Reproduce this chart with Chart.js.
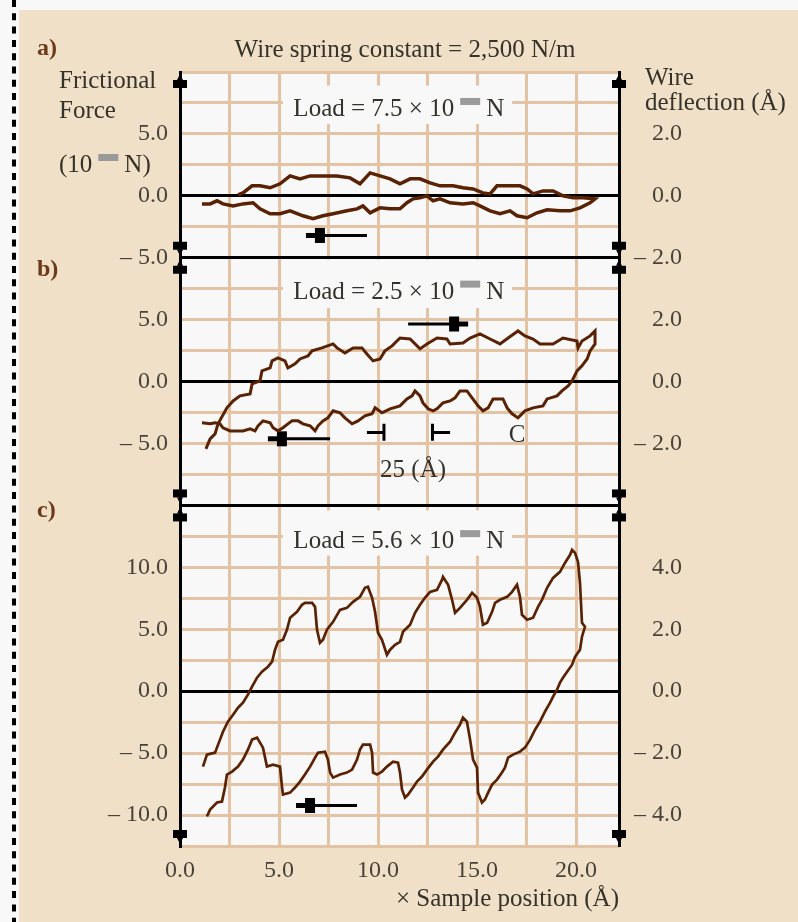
<!DOCTYPE html>
<html>
<head>
<meta charset="utf-8">
<title>Friction loops at three loads</title>
<script src="https://cdn.jsdelivr.net/npm/chart.js@4/dist/chart.umd.min.js"></script>
<style>
  html, body { margin: 0; padding: 0; background: #f8f8f8; }
  canvas { display: block; }
</style>
</head>
<body>
<canvas id="fig" width="798" height="922"></canvas>
<script>
// Sample position (Å) and frictional force for each scan; the forward pass runs
// left to right along the upper branch, the return pass comes back along the lower one.
const aForwardX = [2.93,3.18,3.64,4.04,4.55,5.05,5.56,6.06,6.57,7.22,7.93,8.59,9.09,9.60,10.10,10.61,11.11,11.62,12.12,12.63,13.13,13.79,14.29,14.80,15.30,15.66,16.01,16.67,17.17,17.53,17.83,18.33,18.84,19.34,19.85,20.35,20.96];
const aForwardY = [0.08,0.24,0.81,0.81,0.65,0.97,1.61,1.37,1.61,1.61,1.61,1.45,0.97,1.85,1.61,1.37,0.97,1.37,1.37,1.05,0.81,0.81,0.65,0.56,0.24,0.16,0.81,0.81,0.81,0.56,0.16,0.40,0.40,0.00,-0.16,-0.16,-0.24];
const aReturnX = [20.71,20.20,19.70,19.19,18.54,18.03,17.53,17.02,16.67,16.16,15.66,15.15,14.80,14.29,13.64,13.13,12.78,12.47,12.12,11.77,11.46,11.11,10.61,10.10,9.60,9.24,8.94,8.43,7.73,7.22,6.72,6.21,5.56,5.05,4.55,4.04,3.69,3.18,2.68,2.17,1.87,1.52,1.11];
const aReturnY = [-0.56,-0.97,-1.21,-1.21,-1.13,-1.37,-1.77,-1.61,-1.21,-1.45,-1.21,-0.81,-0.56,-0.65,-0.56,-0.24,-0.40,0.00,-0.16,-0.24,-0.56,-1.05,-1.05,-0.97,-1.37,-0.81,-1.05,-1.21,-1.45,-1.61,-1.85,-1.61,-1.21,-1.45,-1.45,-1.05,-0.56,-0.65,-0.81,-0.65,-0.40,-0.65,-0.65];

const bForwardX = [1.31,1.52,1.77,1.92,2.37,2.68,3.03,3.54,3.64,4.04,4.14,4.55,4.65,4.95,5.30,5.45,5.81,6.06,6.46,6.67,7.17,7.73,7.93,8.33,8.74,9.19,9.44,9.75,10.10,10.35,10.71,11.11,11.62,12.12,12.47,12.98,13.48,13.64,14.29,14.65,15.15,15.66,16.16,16.57,17.07,17.42,17.83,18.18,18.84,19.34,20.05,20.10,20.30,20.71,20.96];
const bForwardY = [-5.43,-4.63,-4.22,-3.41,-2.12,-1.56,-1.15,-0.99,-0.19,0.06,0.86,1.10,1.67,1.91,1.67,1.10,1.43,1.83,2.07,2.48,2.72,3.04,2.72,2.31,2.72,2.72,2.23,1.67,1.83,2.48,2.88,3.52,3.44,2.64,3.04,3.52,3.44,3.04,3.12,3.52,3.85,3.44,3.04,3.52,4.09,3.69,3.44,3.04,3.04,3.52,3.28,2.72,3.28,3.69,4.09];
const bReturnX = [20.96,20.71,20.56,20.30,20.05,19.80,19.60,19.29,19.04,18.54,18.33,17.83,17.42,17.07,16.77,16.52,16.31,15.81,15.56,15.30,15.05,14.75,14.49,14.14,13.89,13.64,13.28,12.98,12.78,12.53,12.27,12.12,11.87,11.72,11.46,11.11,10.61,10.20,9.85,9.70,9.34,8.99,8.69,8.33,8.08,7.73,7.47,7.22,6.97,6.82,6.57,6.21,5.96,5.66,5.45,5.20,4.95,4.70,4.55,4.19,3.94,3.79,3.54,3.18,2.88,2.53,2.17,2.02,1.77,1.52,1.11];
const bReturnY = [3.04,2.48,1.83,1.27,0.86,0.06,-0.35,-0.75,-1.15,-1.40,-1.96,-2.12,-2.36,-2.93,-2.60,-2.12,-1.40,-1.40,-2.12,-2.36,-1.96,-1.31,-0.75,-0.75,-1.31,-1.56,-1.72,-2.20,-2.36,-2.20,-1.72,-1.15,-0.75,-1.15,-1.40,-1.96,-2.20,-2.52,-2.12,-2.60,-2.77,-3.17,-3.41,-2.93,-2.52,-2.36,-2.93,-3.17,-3.57,-3.98,-3.57,-3.41,-3.17,-3.17,-3.41,-3.73,-3.98,-3.73,-3.33,-3.17,-3.57,-3.98,-3.81,-3.98,-3.98,-3.98,-3.73,-3.41,-3.33,-3.41,-3.33];

const cForwardX = [1.16,1.36,1.77,2.02,2.17,2.42,2.68,2.93,3.18,3.43,3.64,3.89,4.14,4.44,4.65,4.80,4.95,5.20,5.40,5.56,5.91,6.16,6.31,6.67,6.82,6.92,7.07,7.22,7.42,7.73,8.08,8.43,8.74,9.09,9.34,9.49,9.70,9.85,10.00,10.20,10.45,10.61,10.86,11.11,11.26,11.62,11.87,12.12,12.37,12.63,12.98,13.23,13.28,13.54,13.74,13.89,14.14,14.49,14.75,15.00,15.15,15.30,15.51,15.76,15.91,16.16,16.52,16.77,17.02,17.17,17.27,17.53,17.83,18.08,18.28,18.54,18.84,19.19,19.44,19.70,19.80,19.95,20.10,20.20,20.30,20.45];
const cForwardY = [-6.09,-5.12,-4.96,-3.91,-3.27,-2.46,-1.90,-1.33,-0.93,-0.28,0.36,1.09,1.57,1.98,2.38,3.35,3.99,4.15,4.96,5.93,6.41,6.98,7.14,7.14,6.81,4.96,3.91,4.15,4.96,5.60,6.57,6.73,7.22,7.62,8.35,8.43,7.54,6.41,4.72,4.15,2.94,3.35,3.75,3.99,4.80,5.36,6.33,6.98,7.54,8.02,8.19,8.99,9.23,8.59,7.38,6.33,6.73,7.38,7.94,7.54,6.81,5.36,5.52,6.41,7.14,7.38,7.62,8.02,8.59,7.62,6.17,5.77,5.93,6.81,7.38,8.35,9.15,9.64,10.36,11.01,11.41,11.17,10.44,8.75,5.52,5.20];
const cReturnX = [20.30,20.20,19.95,19.80,19.55,19.34,19.19,19.04,18.84,18.69,18.43,18.18,17.93,17.68,17.42,17.17,16.82,16.57,16.41,16.26,16.01,15.76,15.56,15.40,15.25,15.05,15.00,14.80,14.65,14.49,14.29,14.14,13.89,13.64,13.28,13.03,12.78,12.47,12.22,11.97,11.77,11.52,11.36,11.21,11.11,11.01,10.76,10.45,10.20,9.95,9.75,9.70,9.60,9.24,9.09,8.94,8.69,8.43,8.08,7.73,7.58,7.47,7.32,6.97,6.82,6.57,6.31,6.06,5.81,5.56,5.20,5.15,5.05,4.70,4.39,4.19,3.89,3.64,3.43,3.18,2.93,2.63,2.37,2.27,2.12,1.87,1.52,1.36];
const cReturnY = [4.40,3.35,2.78,2.14,1.57,1.09,0.69,0.12,-0.44,-0.93,-1.65,-2.46,-3.11,-3.91,-4.56,-4.88,-5.12,-5.36,-6.17,-6.57,-7.14,-7.54,-8.19,-8.75,-8.99,-8.19,-6.17,-5.52,-3.91,-2.46,-2.14,-2.70,-3.35,-4.07,-4.72,-5.28,-5.69,-6.33,-6.89,-7.30,-7.78,-8.35,-8.59,-7.94,-6.57,-5.77,-5.69,-6.09,-6.49,-6.73,-6.57,-4.96,-4.31,-4.31,-4.72,-5.52,-6.33,-6.57,-6.73,-6.98,-6.57,-5.52,-4.88,-4.96,-5.36,-6.09,-6.73,-7.30,-7.78,-8.19,-8.35,-7.70,-6.09,-5.93,-6.09,-4.56,-3.75,-3.91,-4.72,-5.52,-6.09,-6.49,-6.73,-7.78,-8.91,-8.99,-9.56,-10.12];

// Axis ranges (force units) and the tick values that carry a label.
const xRange = [0, 22.17];
const xTickLabels = [0, 5, 10, 15, 20];
const aRange = [-5, 10];
const bRange = [-10, 10];
const cRange = [-12.5, 15];
const aForceLabels = [5, 0, -5];
const bForceLabels = [5, 0, -5];
const cForceLabels = [10, 5, 0, -5, -10];
// Wire deflection (Å) per unit of frictional force: 2,500 N/m spring.
const deflectionPerForce = 0.4;
const aDeflLabels = [2, 0, -2];
const bDeflLabels = [2, 0, -2];
const cDeflLabels = [4, 2, 0, -2, -4];
const loads = ['7.5', '2.5', '5.6'];

const SERIF = '"Liberation Serif", "Times New Roman", serif';
const BEIGE = '#f0e0c8';
const PLOT_BG = '#f8f8f8';
const GRID = '#e3c3a3';
const INK = '#000000';
const TRACE = '#5a2204';
const TEXT = '#34322a';
const TICK_TEXT = '#47433a';
const LETTER = '#6b3a18';

function points(xs, ys) { return xs.map((x, i) => ({ x, y: ys[i] })); }
function loop(fx, fy, rx, ry) { return points(fx.concat(rx), fy.concat(ry)); }
function fmt(v) { return v < 0 ? '\u2013 ' + Math.abs(v).toFixed(1) : Math.abs(v).toFixed(1); }
function near(list, v) { return list.some(t => Math.abs(t - v) < 1e-6); }

function forceAxis(range, weight, labelled, darkValues) {
  return {
    type: 'linear', position: 'left', stack: 'force', stackWeight: range[1] - range[0], weight,
    min: range[0], max: range[1],
    ticks: {
      stepSize: 2.5, autoSkip: false, padding: 12, color: TICK_TEXT,
      font: { family: SERIF, size: 24 },
      callback: v => near(labelled, v) ? fmt(v) : ''
    },
    grid: {
      drawTicks: false, lineWidth: 3,
      color: c => near(darkValues, c.tick.value) ? INK : GRID
    },
    border: { color: INK, width: 3 },
    afterFit: s => { s.width = 180; }
  };
}

function deflectionAxis(range, weight, labelled) {
  const lo = range[0] * deflectionPerForce, hi = range[1] * deflectionPerForce;
  return {
    type: 'linear', position: 'right', stack: 'defl', stackWeight: range[1] - range[0], weight,
    min: lo, max: hi,
    ticks: {
      stepSize: 2.5 * deflectionPerForce, autoSkip: false, crossAlign: 'far', color: TICK_TEXT,
      font: { family: SERIF, size: 24 },
      callback: v => near(labelled, v) ? fmt(v) : ''
    },
    grid: { display: false, drawTicks: false },
    border: { color: INK, width: 3 },
    afterFit: s => { s.width = 63; }
  };
}

function px(scale, v) { return scale.getPixelForValue(v); }

// Text with a grey block standing in for the exponent.
function textWithExponent(ctx, before, after, x, y, align) {
  const gap = 6, blockW = 20;
  const w1 = ctx.measureText(before).width, w2 = ctx.measureText(after).width;
  const total = w1 + gap + blockW + gap + w2;
  let left = align === 'center' ? x - total / 2 : x;
  ctx.textAlign = 'left';
  ctx.fillText(before, left, y);
  ctx.fillStyle = '#9a9a9a';
  ctx.fillRect(left + w1 + gap, y - 18, blockW, 7);
  ctx.fillStyle = TEXT;
  ctx.fillText(after, left + w1 + gap + blockW + gap, y);
}

// Filled arrow: narrow nose, wide block, then a shaft back to the tail.
function arrow(ctx, xs, ys, tailV, tipV, yV) {
  const tail = px(xs, tailV), tip = px(xs, tipV), y = px(ys, yV);
  const d = tail > tip ? 1 : -1;
  ctx.fillStyle = INK;
  ctx.fillRect(Math.min(tip, tip + d * 10), y - 2.5, 10, 5);
  ctx.fillRect(Math.min(tip + d * 9, tip + d * 19), y - 7.5, 10, 15);
  ctx.strokeStyle = INK; ctx.lineWidth = 3;
  ctx.beginPath(); ctx.moveTo(tip + d * 18, y); ctx.lineTo(tail, y); ctx.stroke();
}

// Small arrow-like caps where each panel's vertical axes end.
function cap(ctx, x, edge, dir) {
  // dir = +1: cap below a top edge, pointing up; -1: cap above a bottom edge, pointing down
  ctx.fillStyle = INK;
  const r0 = edge + dir * 8, r1 = edge + dir * 16;
  ctx.fillRect(x - 7, Math.min(r0, r1), 14, 8);
  ctx.beginPath();
  ctx.moveTo(x - 3, r0); ctx.lineTo(x, edge + dir * 2); ctx.lineTo(x + 3, r0);
  ctx.closePath(); ctx.fill();
}

const decor = {
  id: 'decor',
  beforeDraw(chart) {
    const { ctx, chartArea: a } = chart;
    ctx.save();
    ctx.fillStyle = PLOT_BG; ctx.fillRect(0, 0, chart.width, chart.height);
    ctx.fillStyle = BEIGE; ctx.fillRect(19, 10, chart.width - 19, chart.height - 10);
    ctx.strokeStyle = INK; ctx.lineWidth = 4; ctx.setLineDash([7, 6.3]);
    ctx.beginPath(); ctx.moveTo(14, 0); ctx.lineTo(14, chart.height); ctx.stroke();
    ctx.setLineDash([]);
    ctx.fillStyle = PLOT_BG; ctx.fillRect(a.left, a.top, a.right - a.left, a.bottom - a.top);
    ctx.restore();
  },
  beforeDatasetsDraw(chart) {
    const { ctx, scales: s } = chart;
    const x = s.x;
    ctx.save();
    // load captions on blank patches over the grid
    const panels = [
      { y: s.ya, top: 8.9, bottom: 5.8, base: 6.45 },
      { y: s.yb, top: 9.85, bottom: 5.95, base: 6.7 },
      { y: s.yc, top: 14.6, bottom: 10.95, base: 11.55 }
    ];
    ctx.font = '25px ' + SERIF;
    ctx.textBaseline = 'alphabetic';
    panels.forEach((p, i) => {
      const l = px(x, 5.2), r = px(x, 16.77);
      const t = px(p.y, p.top), b = px(p.y, p.bottom);
      ctx.fillStyle = PLOT_BG; ctx.fillRect(l, t, r - l, b - t);
      ctx.fillStyle = TEXT;
      textWithExponent(ctx, 'Load = ' + loads[i] + ' \u00d7 10', 'N', px(x, 11.05), px(p.y, p.base), 'center');
    });
    // scan direction arrows
    arrow(ctx, x, s.ya, 9.44, 6.36, -3.2);
    arrow(ctx, x, s.yb, 11.52, 14.55, 4.65);
    arrow(ctx, x, s.yb, 7.58, 4.44, -4.62);
    arrow(ctx, x, s.yc, 8.94, 5.86, -9.23);
    // 2.5 Å scale bar
    ctx.strokeStyle = INK; ctx.lineWidth = 3;
    const yb = s.yb;
    const yMid = px(yb, -4.12), yTop = px(yb, -3.41), yBot = px(yb, -4.78);
    const xl0 = px(x, 9.44), xl1 = px(x, 10.3), xr0 = px(x, 12.75), xr1 = px(x, 13.64);
    ctx.beginPath();
    ctx.moveTo(xl0, yMid); ctx.lineTo(xl1, yMid);
    ctx.moveTo(xl1, yTop); ctx.lineTo(xl1, yBot);
    ctx.moveTo(xr0, yTop); ctx.lineTo(xr0, yBot);
    ctx.moveTo(xr0, yMid); ctx.lineTo(xr1, yMid);
    ctx.stroke();
    ctx.fillStyle = TEXT; ctx.textAlign = 'center';
    ctx.fillText('25 (\u00c5)', px(x, 11.77), px(yb, -7.69));
    ctx.fillText('C', px(x, 17.02), px(yb, -4.86));
    ctx.restore();
  },
  afterDraw(chart) {
    const { ctx, scales: s } = chart;
    ctx.save();
    const L = s.ya.right, R = s.ra.left;
    [s.ya, s.yb, s.yc].forEach(y => {
      [L, R].forEach(xx => { cap(ctx, xx, y.top, 1); cap(ctx, xx, y.bottom, -1); });
    });
    ctx.textBaseline = 'alphabetic';
    ctx.fillStyle = TEXT;
    ctx.font = '25px ' + SERIF;
    ctx.textAlign = 'center';
    ctx.fillText('Wire spring constant = 2,500 N/m', 405, 57);
    ctx.textAlign = 'left';
    ctx.fillText('Frictional', 59, 88);
    ctx.fillText('Force', 59, 118);
    textWithExponent(ctx, '(10', 'N)', 59, 172, 'left');
    ctx.fillText('Wire', 645, 85);
    ctx.fillText('deflection (\u00c5)', 645, 110);
    ctx.fillStyle = LETTER;
    ctx.font = 'bold 24px ' + SERIF;
    ctx.fillText('a)', 37, 55);
    ctx.fillText('b)', 37, 276);
    ctx.fillText('c)', 37, 517);
    ctx.restore();
  }
};

new Chart(document.getElementById('fig'), {
  type: 'line',
  data: {
    datasets: [
      { data: loop(aForwardX, aForwardY, aReturnX, aReturnY), yAxisID: 'ya', borderColor: TRACE, borderWidth: 3.5 },
      { data: loop(bForwardX, bForwardY, bReturnX, bReturnY), yAxisID: 'yb', borderColor: TRACE, borderWidth: 3 },
      { data: loop(cForwardX, cForwardY, cReturnX, cReturnY), yAxisID: 'yc', borderColor: TRACE, borderWidth: 2.7 }
    ]
  },
  options: {
    responsive: false,
    animation: false,
    events: [],
    layout: { padding: { left: 0, top: 72, right: 116, bottom: 0 } },
    elements: { point: { radius: 0 }, line: { tension: 0, fill: false, borderJoinStyle: 'miter' } },
    plugins: { legend: { display: false }, tooltip: { enabled: false }, title: { display: false } },
    scales: {
      x: {
        type: 'linear', position: 'bottom', min: xRange[0], max: xRange[1],
        ticks: {
          stepSize: 2.5, includeBounds: false, autoSkip: false, maxRotation: 0, padding: 10, color: TICK_TEXT,
          font: { family: SERIF, size: 24 },
          callback: v => near(xTickLabels, v) ? Number(v).toFixed(1) : ''
        },
        grid: { drawTicks: false, color: GRID, lineWidth: 3, z: -1 },
        border: { display: false },
        title: {
          display: true, text: '\u00d7 Sample position (\u00c5)', align: 'end', color: TEXT,
          font: { family: SERIF, size: 25 }, padding: { top: 0, bottom: 8 }
        },
        afterFit: s => { s.height = 76; }
      },
      ya: forceAxis(aRange, 3, aForceLabels, [0, -5]),
      yb: forceAxis(bRange, 2, bForceLabels, [10, 0, -10]),
      yc: forceAxis(cRange, 1, cForceLabels, [15, 0]),
      ra: deflectionAxis(aRange, 1, aDeflLabels),
      rb: deflectionAxis(bRange, 2, bDeflLabels),
      rc: deflectionAxis(cRange, 3, cDeflLabels)
    }
  },
  plugins: [decor]
});
</script>
</body>
</html>
